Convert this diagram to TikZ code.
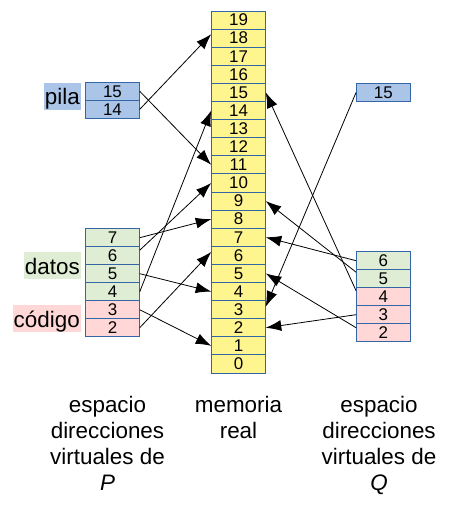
\documentclass[tikz,border=0pt]{standalone}
\usepackage{fontspec}
\setmainfont{Liberation Sans}
\usetikzlibrary{arrows.meta}

\definecolor{amarillo}{HTML}{FFF58F}
\definecolor{borde}{HTML}{3465A4}
\definecolor{azul}{HTML}{ABC5E8}
\definecolor{verde}{HTML}{E0EDD5}
\definecolor{rosa}{HTML}{FFD7D7}

\begin{document}
\begin{tikzpicture}[x=1bp,y=-1bp,>={Latex[length=15.5bp,width=11bp]},
		celda/.style={draw=borde,line width=0.9bp,minimum width=53.6bp,minimum height=18bp,inner sep=0pt,font=\fontsize{17}{18}\selectfont},
		etiq/.style={anchor=east,inner xsep=1bp,inner ysep=0pt,text height=22bp,text depth=5bp,font=\fontsize{22.5}{26}\selectfont},
		pie/.style={anchor=north,align=center,inner sep=0pt,font=\fontsize{22.5}{26}\selectfont},
		flecha/.style={->,line width=0.8bp,black}] % memoria virtual, P y Q
			\useasboundingbox (0,0) rectangle (468,529);

			% memoria real
			\foreach \n in {0,...,19}
				\node[celda,fill=amarillo,minimum height=18.1bp] (m\n) at (238.5,{373-18.1*(\n+0.5)}) {\n};

			% espacio de P
			\node[celda,fill=azul] (p15) at (112.5,91.3) {15};
			\node[celda,fill=azul] (p14) at (112.5,109.3) {14};
			\foreach \n/\y in {7/237.7,6/255.7,5/273.7,4/291.7}
				\node[celda,fill=verde] (p\n) at (112.5,\y) {\n};
			\foreach \n/\y in {3/309.7,2/327.7}
				\node[celda,fill=rosa] (p\n) at (112.5,\y) {\n};

			% espacio de Q
			\node[celda,fill=azul] (q15) at (383.3,92.5) {15};
			\foreach \n/\y in {6/260.7,5/278.7}
				\node[celda,fill=verde] (q\n) at (383.3,\y) {\n};
			\foreach \n/\y in {4/296.7,3/314.7,2/332.7}
				\node[celda,fill=rosa] (q\n) at (383.3,\y) {\n};

			\node[etiq,fill=azul] (pila) at (81,96.3) {pila};
			\node[etiq,fill=verde] (datos) at (81,265.5) {datos};
			\node[etiq,fill=rosa] (codigo) at (81,318.5) {código};

			\node[pie] (pieP) at (107.5,396) {espacio\\direcciones\\virtuales de\\\textit{P}};
			\node[pie] (pieM) at (238.5,396) {memoria\\real};
			\node[pie] (pieQ) at (379,396) {espacio\\direcciones\\virtuales de\\\textit{Q}};

			\draw[flecha] (p15.east) -- (m11.west);
			\draw[flecha] (p14.east) -- ([yshift=4bp]m18.west);
			\draw[flecha] (p7.east) -- (m8.west);
			\draw[flecha] ([yshift=5.5bp]p6.east) -- (m10.west);
			\draw[flecha] (p5.east) -- (m4.west);
			\draw[flecha] (p4.east) -- (m14.west);
			\draw[flecha] (p3.east) -- (m1.west);
			\draw[flecha] (p2.east) -- ([yshift=3.5bp]m6.west);

			\draw[flecha] (q15.west) -- ([yshift=3bp]m3.east);
			\draw[flecha] (q6.west) -- (m7.east);
			\draw[flecha] ([yshift=6.5bp]q5.west) -- (m9.east);
			\draw[flecha] ([yshift=6bp]q4.west) -- (m15.east);
			\draw[flecha] (q3.west) -- (m2.east);
			\draw[flecha] ([yshift=5bp]q2.west) -- (m5.east);
		\end{tikzpicture}
\end{document}
